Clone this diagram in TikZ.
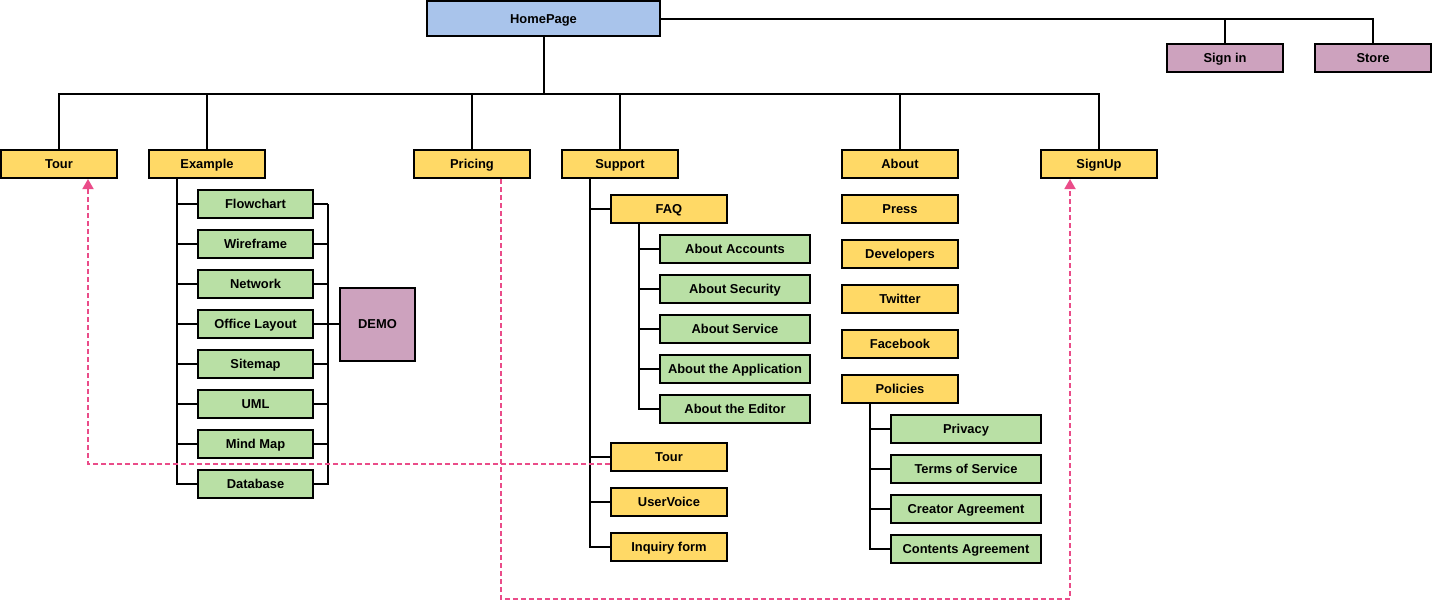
\documentclass[tikz,border=0pt]{standalone}
\usepackage{fontspec}
\setmainfont{Liberation Sans}
\usetikzlibrary{arrows.meta,calc}
\definecolor{hpblue}{HTML}{A9C4EB}
\definecolor{pgyellow}{HTML}{FFD966}
\definecolor{pggreen}{HTML}{B9E0A5}
\definecolor{pgpurple}{HTML}{CDA2BE}
\definecolor{linkpink}{HTML}{EA4C89}
% one page box of the sitemap
\newcommand{\page}[4]{%
 \node[box,#4] ({#1}) at ({#2}) {#3};%
}

\begin{document}
\begin{tikzpicture}[x=1pt,y=-1pt,
  box/.style={draw=black,line width=2pt,inner sep=0pt,minimum width=116pt,minimum height=28pt,
    text height=9.2pt,text depth=0pt,font=\fontsize{12.9}{14}\selectfont\bfseries},
  yel/.style={fill=pgyellow},
  grn/.style={fill=pggreen},
  pur/.style={fill=pgpurple},
  wide/.style={minimum width=150pt},
  tree/.style={line width=2pt},
  link/.style={linkpink,line width=1.8pt,dash pattern=on 5pt off 3pt,-{Triangle[length=10pt,width=11pt]}}]
  \useasboundingbox (0,0) rectangle (1432,600);
  % top level
  \page{hp}{543.5,18.5}{HomePage}{fill=hpblue,minimum width=233pt,minimum height=35pt}
  \page{si}{1225,58}{Sign in}{pur}
  \page{st}{1373,58}{Store}{pur}
  \page{tour}{59,164}{Tour}{yel}
  \page{ex}{207,164}{Example}{yel}
  \page{pr}{472,164}{Pricing}{yel}
  \page{sp}{620,164}{Support}{yel}
  \page{ab}{900,164}{About}{yel}
  \page{su}{1099,164}{SignUp}{yel}
  \draw[tree] (hp.east) -| (si.north);
  \draw[tree] (hp.east) -| (st.north);
  \foreach \n in {tour,ex,pr,sp,ab,su}
    \draw[tree] (hp.south) -- ++(0,57) -| (\n.north);
  % examples
  \foreach \t [count=\i] in {Flowchart,Wireframe,Network,Office Layout,Sitemap,UML,Mind Map,Database}{
    \page{c\i}{255.5,164+40*\i}{\t}{grn,minimum width=115pt}
    \draw[tree] (ex.south west) ++(29,0) |- (c\i.west);
    \draw[tree] (c\i.east) -- ++(14,0);
  }
  \draw[tree] (c1.east) ++(14,0) |- (c8.east);
  \page{dm}{377.5,324}{DEMO}{pur,minimum width=75pt,minimum height=73pt}
  \draw[tree] (c4.east) -- (dm.west);
  % support
  \page{faq}{669,209}{FAQ}{yel}
  \page{t2}{669,457}{Tour}{yel}
  \page{uv}{669,502}{UserVoice}{yel}
  \page{iq}{669,547}{Inquiry form}{yel}
  \foreach \n in {faq,t2,uv,iq}
    \draw[tree] (sp.south west) ++(29,0) |- (\n.west);
  \foreach \t [count=\i] in {About Accounts,About Security,About Service,About the Application,About the Editor}{
    \page{q\i}{735,209+40*\i}{\t}{grn,wide}
    \draw[tree] (faq.south west) ++(29,0) |- (q\i.west);
  }
  % about
  \foreach \t [count=\i] in {Press,Developers,Twitter,Facebook,Policies}{
    \page{a\i}{900,164+45*\i}{\t}{yel}
  }
  \foreach \t [count=\i] in {Privacy,Terms of Service,Creator Agreement,Contents Agreement}{
    \page{p\i}{966,389+40*\i}{\t}{grn,wide}
    \draw[tree] (a5.south west) ++(29,0) |- (p\i.west);
  }
  % cross links
  \draw[link] ($(t2.west)+(0,7)$) -| ($(tour.south)+(29,0)$);
  \draw[link] ($(pr.south)+(29,0)$) -- ++(0,420) -| ($(su.south)+(-29,0)$);
\end{tikzpicture}
\end{document}
